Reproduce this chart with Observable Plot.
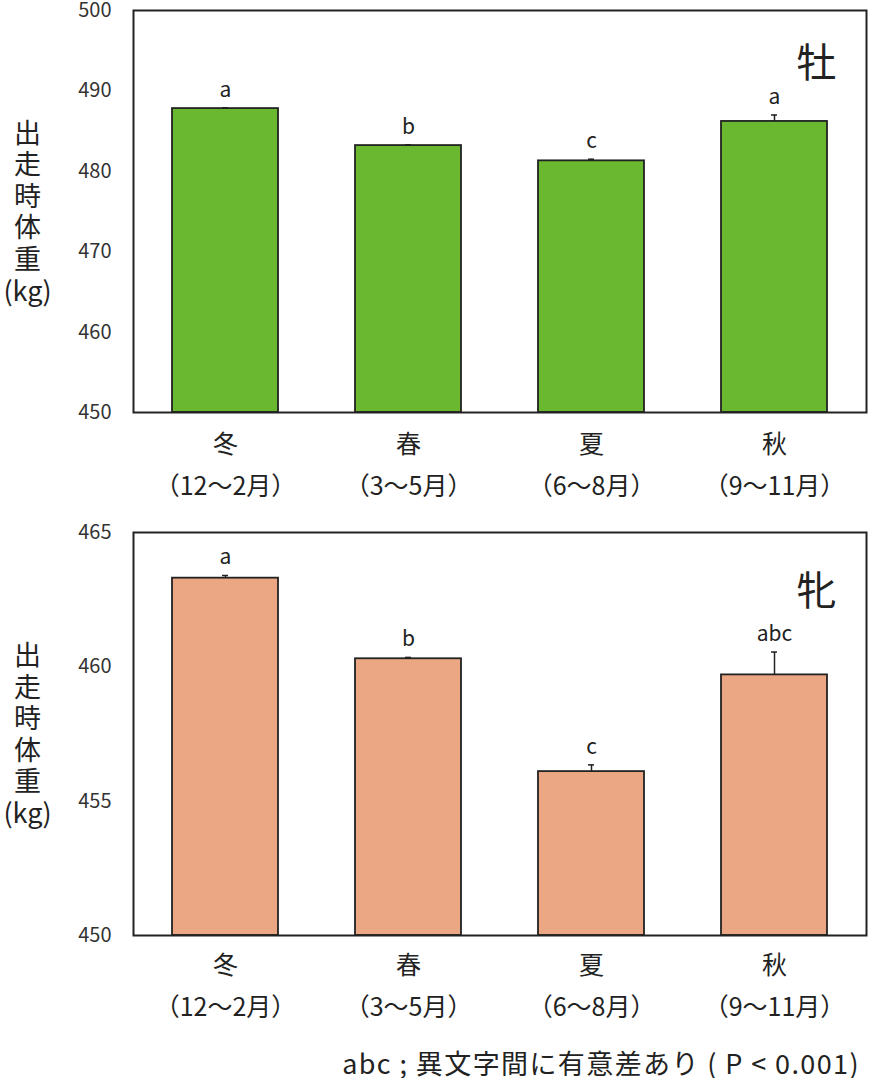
<!DOCTYPE html>
<html><head><meta charset="utf-8">
<script src="https://cdn.jsdelivr.net/npm/d3@7"></script>
<script src="https://cdn.jsdelivr.net/npm/@observablehq/plot@0.6"></script>
<style>
body{margin:0;background:#fff;font-family:"Noto Sans CJK JP","Noto Sans",sans-serif;color:#222;}
#c{width:869px;}
#note{width:869px;box-sizing:border-box;padding-right:9px;text-align:right;font-size:27px;letter-spacing:1.4px;line-height:30px;margin-top:8px;color:#222;white-space:nowrap;}
svg{display:block;}
</style>
</head><body><div id="c"></div><div id="note">abc ; 異文字間に有意差あり ( P &lt; 0.001)</div>
<script>
const seasons = ["冬","春","夏","秋"];
const months = ["（12〜2月）","（3〜5月）","（6〜8月）","（9〜11月）"];
const maleMean = [487.8, 483.2, 481.3, 486.2];
const maleSE = [0.1, 0.1, 0.2, 0.8];
const maleLetters = ["a","b","c","a"];
const maleTicks = [450,460,470,480,490,500];
const femaleMean = [463.3, 460.3, 456.1, 459.7];
const femaleSE = [0.1, 0.05, 0.25, 0.85];
const femaleLetters = ["a","b","c","abc"];
const femaleTicks = [450,455,460,465];

const FF = "Noto Sans CJK JP";

function panel({mean, se, letters, ticks, fill, sex, sexDy, labDy, marginTop, marginBottom, height}) {
  const data = seasons.map((s,i)=>({season:s, month:months[i], mean:mean[i], se:se[i], letter:letters[i]}));
  const lo = ticks[0], hi = ticks[ticks.length-1];
  return Plot.plot({
    width: 869, height, marginLeft: 133, marginRight: 3, marginTop, marginBottom,
    style: {fontFamily: FF, fontSize: "20px", color: "#222", background: "white"},
    x: {domain: seasons, paddingInner: 0.42, paddingOuter: 0.21, axis: null},
    y: {domain: [lo, hi], axis: null},
    marks: [
      Plot.axisY(ticks, {tickSize: 0, tickPadding: 22, label: null, fontSize: 20, fontFamily: FF, fill: "#333"}),
      Plot.barY(data, {x: "season", y1: () => lo, y2: "mean", fill, stroke: "#222", strokeWidth: 1.8}),
      Plot.ruleX(data, {x: "season", y1: "mean", y2: d => d.mean + d.se, stroke: "#222", strokeWidth: 1.5}),
      Plot.tickY(data, {x: "season", y: d => d.mean + d.se, insetLeft: 50, insetRight: 50, stroke: "#222", strokeWidth: 1.5}),
      Plot.text(data, {x: "season", y: d => d.mean + d.se, text: "letter", dy: -18, fontSize: 21, fontFamily: FF, fill: "#222"}),
      Plot.text(data, {x: "season", text: "season", frameAnchor: "bottom", dy: labDy, fontSize: 25, fontFamily: FF, fill: "#222"}),
      Plot.text(data, {x: "season", text: "month", frameAnchor: "bottom", dy: labDy + 42, fontSize: 25, fontFamily: FF, fill: "#222"}),
      Plot.text(["出\n走\n時\n体\n重\n(kg)"], {frameAnchor: "left", textAnchor: "middle", dx: -106, fontSize: 27, lineHeight: 1.17, fontFamily: FF, fill: "#222"}),
      Plot.text([sex], {frameAnchor: "top-right", textAnchor: "middle", dx: -50, dy: sexDy, fontSize: 40, fontFamily: FF, fill: "#222"}),
      Plot.frame({stroke: "#222", strokeWidth: 2})
    ]
  });
}

const c = document.getElementById("c");
c.appendChild(panel({mean: maleMean, se: maleSE, letters: maleLetters, ticks: maleTicks, fill: "#6ab82f", sex: "牡", sexDy: 38, labDy: 40, marginTop: 10, marginBottom: 108, height: 520}));
c.appendChild(panel({mean: femaleMean, se: femaleSE, letters: femaleLetters, ticks: femaleTicks, fill: "#eba784", sex: "牝", sexDy: 44, labDy: 38, marginTop: 12, marginBottom: 105, height: 520}));
</script>
</body></html>
